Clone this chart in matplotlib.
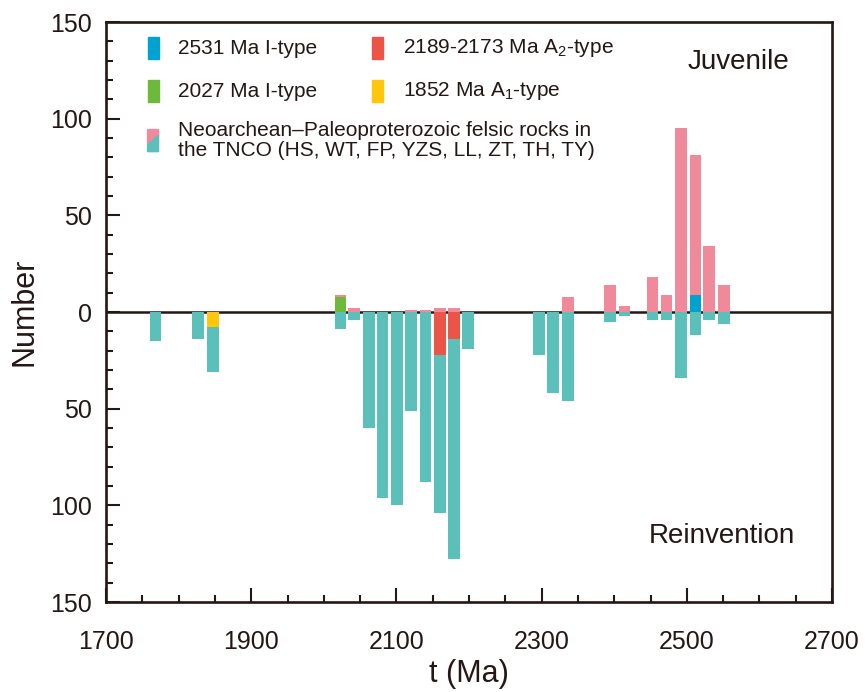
import numpy as np
import matplotlib
matplotlib.use('Agg')
import matplotlib.pyplot as plt
from matplotlib.patches import Rectangle, Polygon
from matplotlib.ticker import MultipleLocator, FuncFormatter

plt.rcParams['font.family'] = ['Liberation Sans', 'DejaVu Sans']
plt.rcParams['mathtext.fontset'] = 'custom'
plt.rcParams['mathtext.rm'] = 'Liberation Sans'
plt.rcParams['mathtext.default'] = 'regular'

INK = '#231815'
TEAL = '#5bbfba'
PINK = '#f08a9b'
RED = '#ea5548'
GREEN = '#6cb93c'
YELLOW = '#ffc60b'
BLUE = '#00a3d0'

# bin centres (Ma)
ages = [1768, 1827, 1847, 2023, 2042, 2062, 2081, 2101, 2120, 2140, 2160, 2179,
        2199, 2296, 2316, 2336, 2394, 2414, 2453, 2472, 2492, 2512, 2531, 2551]

# TNCO felsic rocks: juvenile (plotted up) and reworked (plotted down)
felsic_juv = [0, 0, 0, 1, 2, 0, 0, 0, 1, 1, 2, 2,
              0, 0, 0, 8, 14, 3, 18, 9, 95, 72, 34, 14]
felsic_rein = [15, 14, 23, 9, 4, 60, 96, 100, 51, 88, 82, 114,
               19, 22, 42, 46, 5, 2, 4, 4, 34, 12, 4, 6]

# dated samples of this study
i_2531 = [0] * 21 + [9] + [0, 0]
i_2027 = [0, 0, 0, 8] + [0] * 20
a2_2189 = [0] * 10 + [22, 14] + [0] * 12
a1_1852 = [0, 0, 8] + [0] * 21

xticks = [1700, 1900, 2100, 2300, 2500, 2700]

ages = np.array(ages)
i_2531 = np.array(i_2531)
i_2027 = np.array(i_2027)
a2_2189 = np.array(a2_2189)
a1_1852 = np.array(a1_1852)
felsic_juv = np.array(felsic_juv)
felsic_rein = np.array(felsic_rein)

fig = plt.figure(figsize=(8.65, 6.92), dpi=100)
ax = fig.add_axes([106 / 865, 1 - 602 / 692, 726 / 865, 580 / 692])

w = 16
ax.axhline(0, color=INK, lw=1.8, zorder=1)

# upper half
ax.bar(ages, i_2531, w, color=BLUE, zorder=2)
ax.bar(ages, i_2027, w, color=GREEN, zorder=2)
ax.bar(ages, felsic_juv, w, bottom=i_2531 + i_2027, color=PINK, zorder=2)

# lower half
ax.bar(ages, -a2_2189, w, color=RED, zorder=2)
ax.bar(ages, -a1_1852, w, color=YELLOW, zorder=2)
ax.bar(ages, -felsic_rein, w, bottom=-(a2_2189 + a1_1852), color=TEAL, zorder=2)

ax.set_xlim(1700, 2700)
ax.set_ylim(-150, 150)
ax.set_xticks(xticks)
ax.xaxis.set_minor_locator(MultipleLocator(50))
ax.yaxis.set_major_locator(MultipleLocator(50))
ax.yaxis.set_minor_locator(MultipleLocator(10))
ax.yaxis.set_major_formatter(FuncFormatter(lambda v, p: '%d' % abs(v)))

ax.tick_params(which='both', direction='in', width=1.5, color=INK,
               top=False, right=False, labelcolor=INK, labelsize=18)
ax.tick_params(which='major', length=10)
ax.tick_params(which='minor', length=5)
ax.tick_params(axis='x', which='major', pad=20)
ax.tick_params(axis='y', which='major', pad=10)
for s in ax.spines.values():
    s.set_linewidth(1.9)
    s.set_color(INK)

ax.set_xlabel('t (Ma)', fontsize=22, color=INK, labelpad=4)
ax.set_ylabel('Number', fontsize=22, color=INK, labelpad=8)

# legend drawn by hand
tr = ax.transAxes
pw, ph = 0.0151, 0.038
legend_items = [
    (0.0573, 0.9545, BLUE, '2531 Ma I-type'),
    (0.367, 0.9545, RED, r'2189-2173 Ma A$_2$-type'),
    (0.0573, 0.8806, GREEN, '2027 Ma I-type'),
    (0.367, 0.8806, YELLOW, r'1852 Ma A$_1$-type'),
]
for x, y, c, label in legend_items:
    ax.add_patch(Rectangle((x, y - ph / 2), pw, ph, transform=tr,
                           color=c, zorder=3))
    ax.text(x + 0.042, y, label, transform=tr, fontsize=15, color=INK,
            va='center', ha='left')

x, y = 0.0573, 0.7955
ax.add_patch(Polygon([(x, y + ph / 2), (x + pw, y + ph / 2),
                      (x + pw, y + 0.25 * ph), (x, y - 0.2 * ph)],
                     closed=True, transform=tr, color=PINK, zorder=3))
ax.add_patch(Polygon([(x, y - 0.2 * ph), (x + pw, y + 0.25 * ph),
                      (x + pw, y - ph / 2), (x, y - ph / 2)],
                     closed=True, transform=tr, color=TEAL, zorder=3))
ax.text(x + 0.042, y, 'Neoarchean\u2013Paleoproterozoic felsic rocks in\n'
        'the TNCO (HS, WT, FP, YZS, LL, ZT, TH, TY)',
        transform=tr, fontsize=15, color=INK, va='center', ha='left',
        linespacing=1.1)

ax.text(0.871, 0.931, 'Juvenile', transform=tr, fontsize=20, color=INK,
        ha='center', va='center')
ax.text(0.849, 0.113, 'Reinvention', transform=tr, fontsize=20, color=INK,
        ha='center', va='center')

fig.savefig('out.png', dpi=100)
